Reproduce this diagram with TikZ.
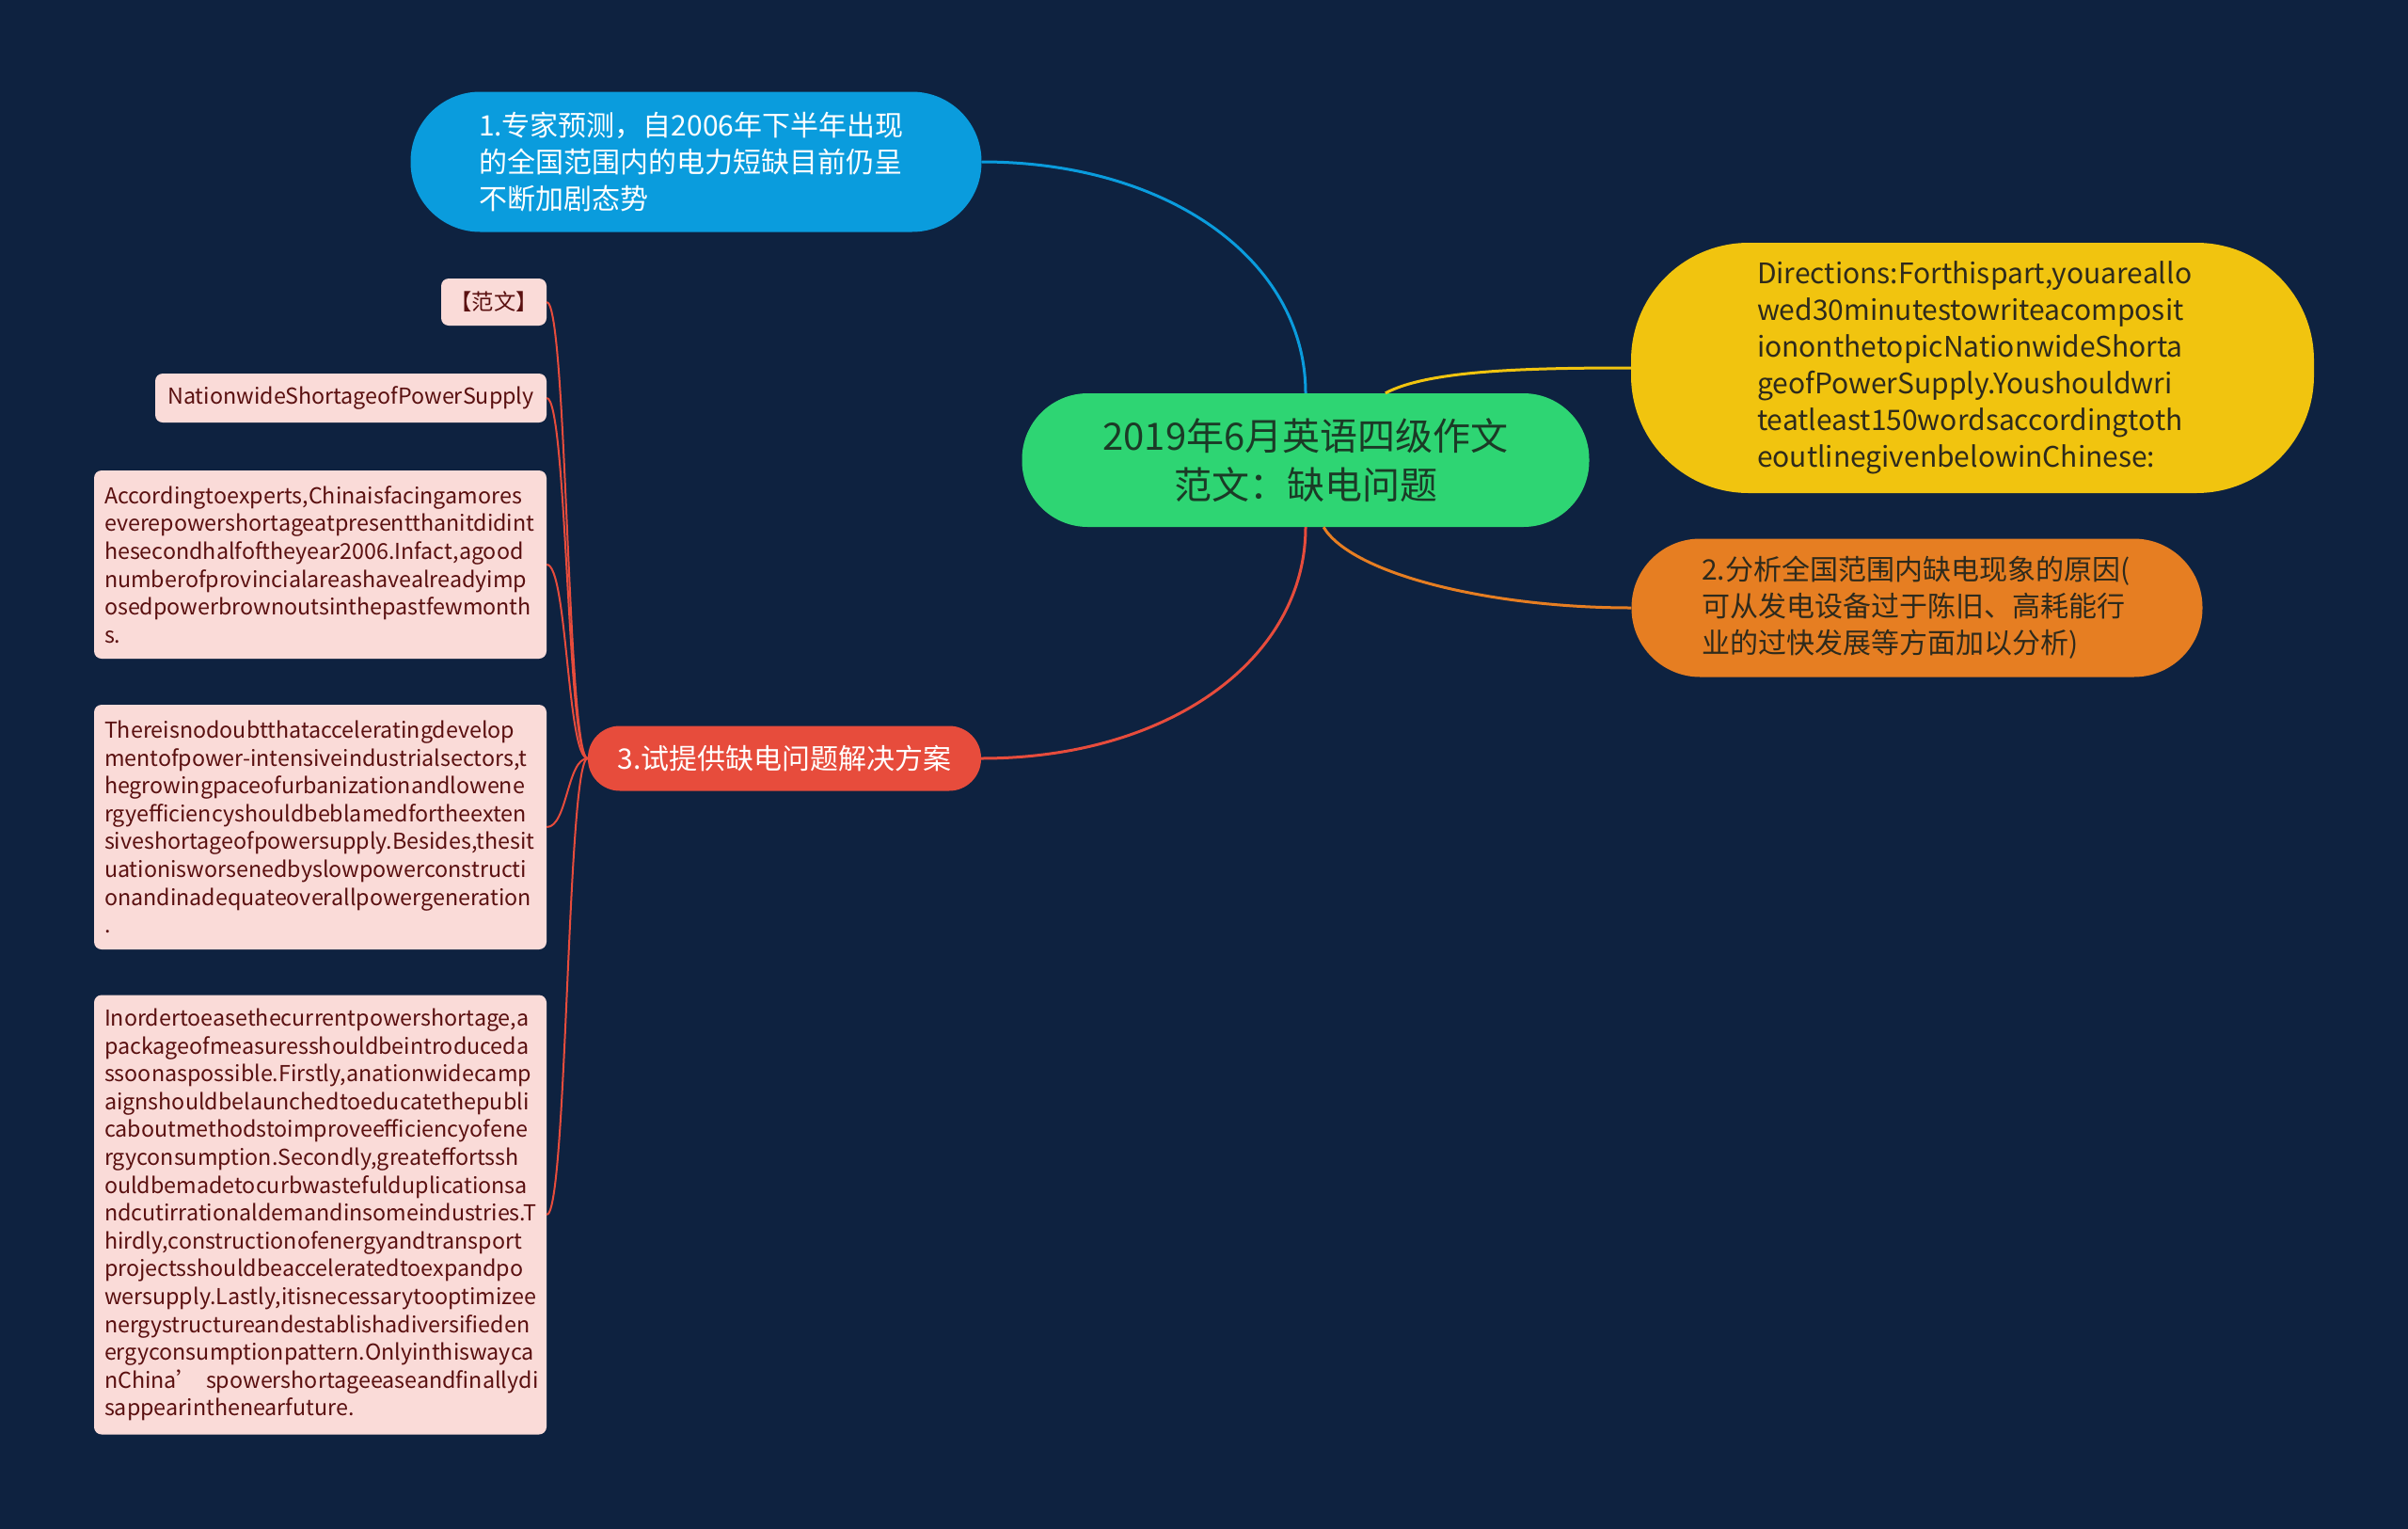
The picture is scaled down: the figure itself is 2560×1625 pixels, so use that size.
\documentclass[tikz,border=0pt]{standalone}
\usepackage{fontspec}
\setmainfont{Noto Sans CJK SC}
\usepackage{xcolor}
\usetikzlibrary{positioning}
\definecolor{bgNavy}{HTML}{0E2240}
\definecolor{rootGreen}{HTML}{2ED573}
\definecolor{rootText}{HTML}{1B3A26}
\definecolor{skyBlue}{HTML}{0A9CDD}
\definecolor{sunYellow}{HTML}{F1C40F}
\definecolor{carrot}{HTML}{E67E22}
\definecolor{alizarin}{HTML}{E74C3C}
\definecolor{leafPink}{HTML}{FADBD8}
\definecolor{leafText}{HTML}{5A1010}
\definecolor{darkText}{HTML}{2E2A1C}

\begin{document}
\begin{tikzpicture}[x=1pt, y=-1pt,
  topic/.style={rounded corners=#1, inner sep=0pt, font=\fontsize{30}{39}\selectfont, align=left},
  leaf/.style={fill=leafPink, text=leafText, rounded corners=8pt, inner sep=0pt, font=\fontsize{23.3}{29.6}\selectfont, align=left},
  link/.style={line width=3pt},
  twig/.style={alizarin, line width=2pt}]
\fill[bgNavy] (0,0) rectangle (2560,1625);
\useasboundingbox (0,0) rectangle (2560,1625);

% centre and first level
\node[fill=rootGreen, text=rootText, rounded corners=70pt, inner sep=0pt, minimum width=603pt, minimum height=142pt, align=center, font=\fontsize{40}{52}\selectfont]
  (root) at (1388,489) {2019年6月英语四级作文\\范文：缺电问题};
\node[topic=74pt, fill=skyBlue, text=white, minimum width=607pt, minimum height=149pt, text width=462pt]
  (expert) at (740,172) {1.专家预测，自2006年下半年出现\\的全国范围内的电力短缺目前仍呈\\不断加剧态势};
\node[topic=125pt, fill=sunYellow, text=darkText, minimum width=726pt, minimum height=266pt, text width=458pt]
  (directions) at (2097,391) {Directions:Forthispart,youareallo\\wed30minutestowriteacomposit\\iononthetopicNationwideShorta\\geofPowerSupply.Youshouldwri\\teatleast150wordsaccordingtoth\\eoutlinegivenbelowinChinese:};
\node[topic=73pt, fill=carrot, text=darkText, minimum width=607pt, minimum height=147pt, text width=458pt]
  (reason) at (2038,646) {2.分析全国范围内缺电现象的原因(\\可从发电设备过于陈旧、高耗能行\\业的过快发展等方面加以分析)};
\node[topic=34pt, fill=alizarin, text=white, minimum width=418pt, minimum height=69pt, align=center]
  (solution) at (834,806) {3.试提供缺电问题解决方案};

% leaves of the sample essay
\node[leaf, minimum width=112pt, minimum height=50pt, align=center] (sample) at (525,321) {【范文】};
\node[leaf, minimum width=416pt, minimum height=52pt, align=center] (title) at (373,423) {NationwideShortageofPowerSupply};
\node[leaf, minimum width=481pt, minimum height=200pt, text width=459pt] (para1) at (340.5,600)
  {Accordingtoexperts,Chinaisfacingamores\\everepowershortageatpresentthanitdidint\\hesecondhalfoftheyear2006.Infact,agood\\numberofprovincialareashavealreadyimp\\osedpowerbrownoutsinthepastfewmonth\\s.};
\node[leaf, minimum width=481pt, minimum height=260pt, text width=459pt] (para2) at (340.5,879)
  {Thereisnodoubtthatacceleratingdevelop\\mentofpower-intensiveindustrialsectors,t\\hegrowingpaceofurbanizationandlowene\\rgyefficiencyshouldbeblamedfortheexten\\siveshortageofpowersupply.Besides,thesit\\uationisworsenedbyslowpowerconstructi\\onandinadequateoverallpowergeneration\\.};
\node[leaf, minimum width=481pt, minimum height=467pt, text width=459pt] (para3) at (340.5,1291)
  {Inordertoeasethecurrentpowershortage,a\\packageofmeasuresshouldbeintroduceda\\ssoonaspossible.Firstly,anationwidecamp\\aignshouldbelaunchedtoeducatethepubli\\caboutmethodstoimproveefficiencyofene\\rgyconsumption.Secondly,greateffortssh\\ouldbemadetocurbwastefulduplicationsa\\ndcutirrationaldemandinsomeindustries.T\\hirdly,constructionofenergyandtransport\\projectsshouldbeacceleratedtoexpandpo\\wersupply.Lastly,itisnecessarytooptimizee\\nergystructureandestablishadiversifieden\\ergyconsumptionpattern.Onlyinthiswayca\\\mbox{nChina’ spowershortageeaseandfinallydi}\\sappearinthenearfuture.};

% connectors
\draw[link, skyBlue] (root.north) .. controls +(0,-140) and +(200,0) .. (expert.east);
\draw[link, sunYellow] (root.40) .. controls +(45,-24) and +(-114,0) .. (directions.west);
\draw[link, carrot] (root.-75) .. controls +(30,50) and +(-150,0) .. (reason.west);
\draw[link, alizarin] (root.south) .. controls +(0,140) and +(200,0) .. (solution.east);
\foreach \leafname in {sample, title, para1, para2, para3}
  \draw[twig] (solution.west) .. controls +(-22,0) and +(22,0) .. (\leafname.east);
\end{tikzpicture}
\end{document}
